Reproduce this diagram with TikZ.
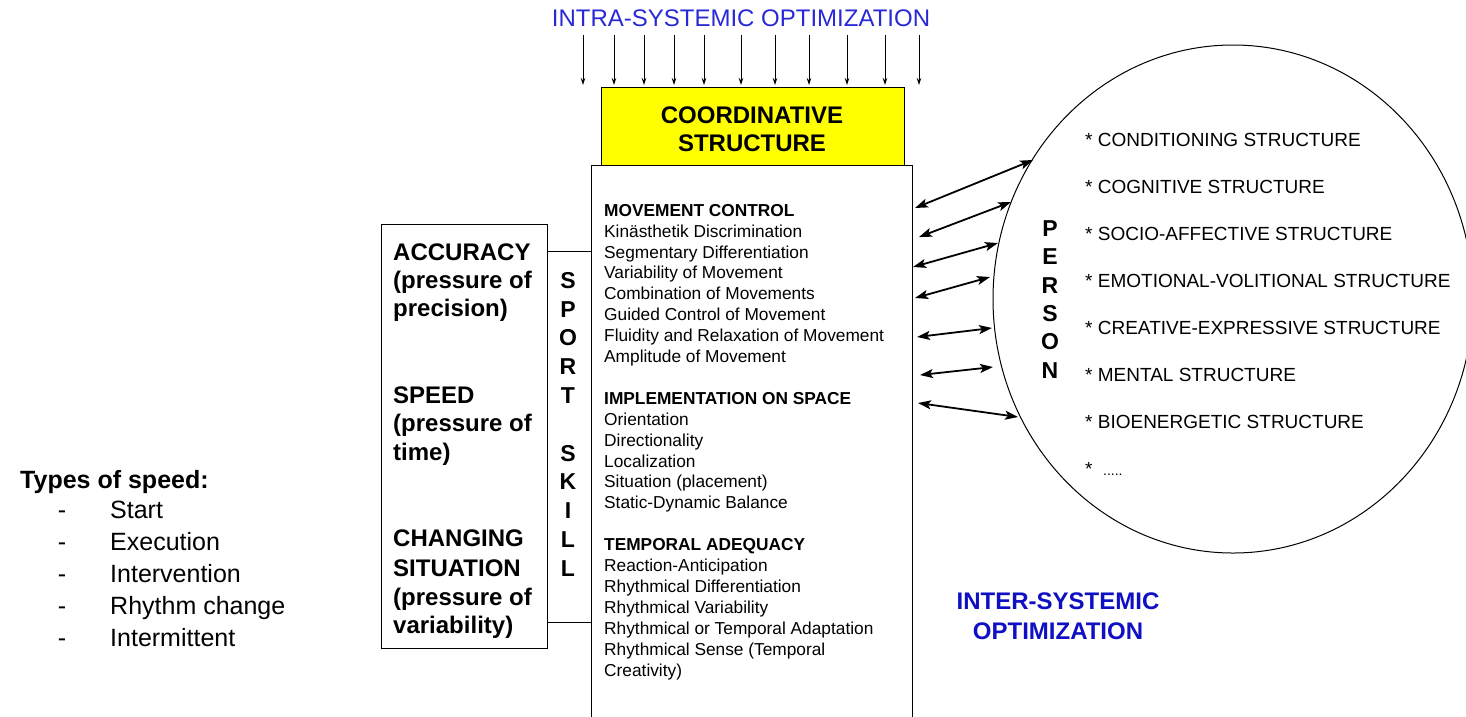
\documentclass[tikz,border=0pt]{standalone}
\usepackage{fontspec}
\setmainfont{Liberation Sans}
\usetikzlibrary{arrows.meta,shapes.geometric}
\definecolor{intrablue}{RGB}{40,40,215}
\definecolor{interblue}{RGB}{15,15,195}
\definecolor{coordyellow}{RGB}{255,255,0}

\begin{document}
\begin{tikzpicture}[x=1pt,y=-1pt,
  frame/.style={draw=black, line width=1.2pt, inner sep=0pt, anchor=north west},
  feed/.style={draw=black, line width=0.8pt, -{Stealth[length=7pt,width=4.5pt]}},
  link/.style={draw=black, line width=1.8pt, {Stealth[length=13pt,width=9pt,inset=3pt]}-{Stealth[length=13pt,width=9pt,inset=3pt]}},
  lbl/.style={inner sep=0pt, anchor=base west},
  ctr/.style={inner sep=0pt, anchor=base},
  bigb/.style={font=\fontsize{24}{28}\selectfont\bfseries},
  ctrl/.style={lbl, font=\fontsize{17.3}{20.9}\selectfont},
  pers/.style={lbl, font=\fontsize{19}{22}\selectfont},
  list/.style={lbl, font=\fontsize{25}{30}\selectfont},
  letter/.style={ctr, font=\fontsize{23}{26}\selectfont\bfseries},
  pletter/.style={ctr, font=\fontsize{23}{26}\selectfont\bfseries}]
\useasboundingbox (0,0) rectangle (1466,716);
\clip (0,0) rectangle (1466,716);

% ---------- coordinative structure ----------
\node[frame, fill=coordyellow, minimum width=303pt, minimum height=78pt] (coord) at (601,87) {};
\node[frame, fill=white, minimum width=321pt, minimum height=580pt] (control) at (591,165) {};
\node[bigb, align=center, inner sep=0pt] (coordtxt) at (752,129) {COORDINATIVE\\STRUCTURE};

% intra-systemic optimisation
\node[ctr, font=\fontsize{24}{28}\selectfont, text=intrablue] (intra) at (741,26.6) {INTRA-SYSTEMIC OPTIMIZATION};
\foreach \x [count=\i] in {583,614,644,674,704,741,775,809,847,885,919}{
  \coordinate (ts\i) at (\x,35);
  \coordinate (te\i) at (\x,85);
  \draw[feed] (ts\i) -- (te\i);
}

% ---------- contents of the control box ----------
\foreach \i/\t in {0/{\bfseries MOVEMENT CONTROL},
                   1/Kinästhetik Discrimination,
                   2/Segmentary Differentiation,
                   3/Variability of Movement,
                   4/Combination of Movements,
                   5/Guided Control of Movement,
                   6/Fluidity and Relaxation of Movement,
                   7/Amplitude of Movement,
                   9/{\bfseries IMPLEMENTATION ON SPACE},
                   10/Orientation,
                   11/Directionality,
                   12/Localization,
                   13/Situation (placement),
                   14/Static-Dynamic Balance,
                   16/{\bfseries TEMPORAL ADEQUACY},
                   17/Reaction-Anticipation,
                   18/Rhythmical Differentiation,
                   19/Rhythmical Variability,
                   20/Rhythmical or Temporal Adaptation,
                   21/Rhythmical Sense (Temporal,
                   22/Creativity)}{
  \node[ctrl] (cl\i) at (604,{216.2+20.9*\i}) {\t};
}

% ---------- demands box and sport skill ----------
\node[frame, minimum width=166pt, minimum height=424pt] (demands) at (381,224) {};
\node[frame, minimum width=44pt, minimum height=371pt] (skill) at (547,251) {};

\foreach \i/\y/\t in {1/252/ACCURACY, 2/280/(pressure of, 3/308/precision),
                      4/395/SPEED, 5/423/(pressure of, 6/452/time),
                      7/538/CHANGING, 8/568/SITUATION, 9/597/(pressure of, 10/625/variability)}{
  \node[lbl, bigb] (dm\i) at (393,{\y+8.6}) {\t};
}

\foreach \i/\l in {0/S,1/P,2/O,3/R,4/T,6/S,7/K,8/I,9/L,10/L}{
  \node[letter] (sk\i) at (568,{280+28.8*\i+8.2}) {\l};
}

% ---------- types of speed ----------
\node[lbl, font=\fontsize{25}{30}\selectfont\bfseries] (types) at (20,488) {Types of speed:};
\foreach \i/\t in {0/Start, 1/Execution, 2/Intervention, 3/Rhythm change, 4/Intermittent}{
  \node[ctr, font=\fontsize{25}{30}\selectfont] (dash\i) at (62,{518+32*\i}) {-};
  \node[list] (sp\i) at (110,{518+32*\i}) {\t};
}

% ---------- person ----------
\node[draw=black, line width=1pt, ellipse, minimum width=480pt, minimum height=508pt, inner sep=0pt] (person) at (1233,299) {};

\foreach \i/\l in {0/P,1/E,2/R,3/S,4/O,5/N}{
  \node[pletter] (pn\i) at (1050,{228+28.4*\i+8.2}) {\l};
}

\foreach \i/\t in {0/CONDITIONING STRUCTURE,
                   1/COGNITIVE STRUCTURE,
                   2/SOCIO-AFFECTIVE STRUCTURE,
                   3/EMOTIONAL-VOLITIONAL STRUCTURE,
                   4/CREATIVE-EXPRESSIVE STRUCTURE,
                   5/MENTAL STRUCTURE,
                   6/BIOENERGETIC STRUCTURE}{
  \node[pers] (ps\i) at (1085,{140+47*\i+6.8}) {* \t};
}
\node[pers] (ps7) at (1085,{140+47*7+6.8}) {*\ \ {\fontsize{14}{14}\selectfont .....}};

% ---------- links between control box and person ----------
\foreach \i/\ax/\ay/\bx/\by in {1/915/208/1033/160,
                                2/919/237/1011/202,
                                3/913/267/998/243,
                                4/915/298/990/277,
                                5/917/337/992/328,
                                6/920/375/993/367,
                                7/918/403/1018/417}{
  \coordinate (la\i) at (\ax,\ay);
  \coordinate (lb\i) at (\bx,\by);
  \draw[link] (la\i) -- (lb\i);
}

% inter-systemic optimisation
\node[ctr, font=\fontsize{24}{30}\selectfont\bfseries, text=interblue] (inter1) at (1058,609.6) {INTER-SYSTEMIC};
\node[ctr, font=\fontsize{24}{30}\selectfont\bfseries, text=interblue] (inter2) at (1058,639.6) {OPTIMIZATION};
\end{tikzpicture}
\end{document}
